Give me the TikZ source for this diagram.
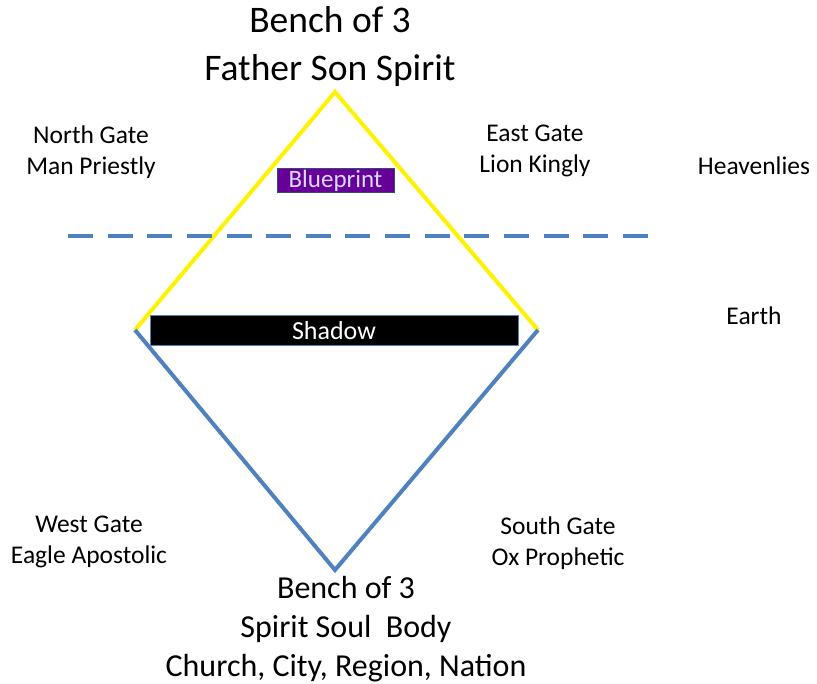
\documentclass[tikz,border=0pt]{standalone}
\usepackage{fontspec}
\setmainfont{Carlito}
\begin{document}
\begin{tikzpicture}[x=1pt,y=-1pt,
  lbl/.style={align=center,inner sep=0pt,font=\fontsize{25.5}{31}\selectfont},
  big/.style={align=center,inner sep=0pt,font=\fontsize{37.5}{48}\selectfont},
  mid/.style={align=center,inner sep=0pt,font=\fontsize{32}{39}\selectfont},
  yel/.style={draw=yellow,line width=4pt},
  blu/.style={draw={rgb,255:red,79;green,129;blue,189},line width=4pt}]
\definecolor{myblue}{RGB}{79,129,189}
\definecolor{mypurple}{RGB}{102,0,153}
\useasboundingbox (0,0) rectangle (817,684);
\coordinate (T) at (335,92);
\coordinate (L) at (135,330);
\coordinate (R) at (538,330);
\coordinate (B) at (335,570);
\coordinate (d1) at (68,236);
\coordinate (d2) at (648,236);
\draw[yel] (L) -- (T) -- (R);
\draw[blu,line join=miter] (L) -- (B) -- (R);
\draw[myblue,line width=4pt,dash pattern=on 25pt off 14.64pt] (d1) -- (d2);
\node[draw=myblue,line width=1pt,fill=black,text=white,minimum width=368pt,minimum height=30pt,inner sep=0pt,font=\fontsize{26}{28}\selectfont] (shadow) at (334,331) {Shadow};
\node[draw=myblue!60!black,line width=1pt,fill=mypurple,text=white!85!blue,minimum width=117pt,minimum height=24pt,inner sep=0pt,font=\fontsize{25}{26}\selectfont] (bp) at (335.5,181) {Blueprint};
\node[big] (top) at (330,47) {Bench of 3\\Father Son Spirit};
\node[lbl] (ng) at (91,152) {North Gate\\Man Priestly};
\node[lbl] (eg) at (535,151) {East Gate\\Lion Kingly};
\node[lbl] (hv) at (754,166) {Heavenlies};
\node[lbl] (ea) at (754,316) {Earth};
\node[lbl] (wg) at (89,542) {West Gate\\Eagle Apostolic};
\node[lbl] (sg) at (558,543) {South Gate\\Ox Prophetic};
\node[mid] (bot) at (346,629) {Bench of 3\\Spirit Soul~~Body\\Church, City, Region, Nation};
\end{tikzpicture}
\end{document}
